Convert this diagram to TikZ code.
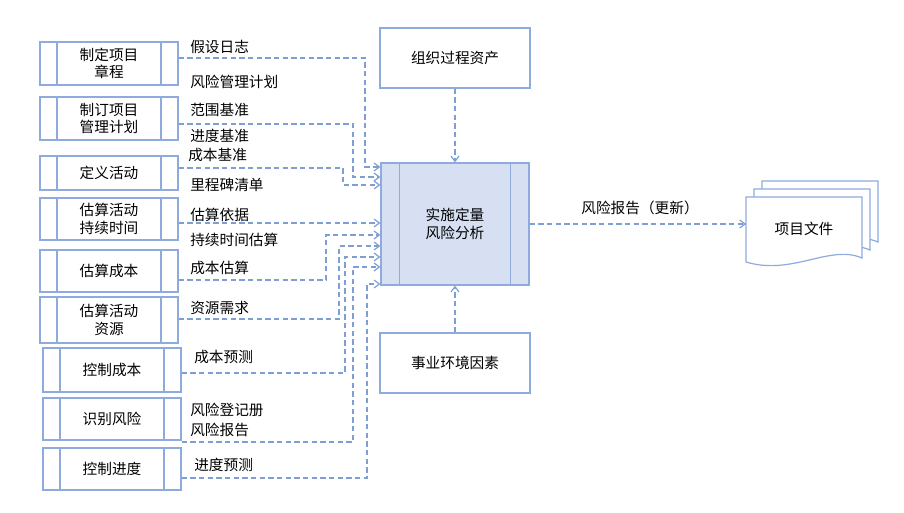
\documentclass[tikz,border=0pt]{standalone}
\usepackage{fontspec}
\setmainfont{Noto Sans CJK SC}
\usetikzlibrary{arrows.meta}
\definecolor{boxline}{RGB}{143,170,220}
\definecolor{flowline}{RGB}{127,158,214}
\definecolor{mainfill}{RGB}{214,224,242}
\tikzset{
    proc/.style={draw=boxline, line width=0.9pt, fill=white, minimum width=103.5pt, align=center, inner sep=0pt,
        path picture={\draw[boxline, line width=0.9pt] ([xshift=12.75pt]path picture bounding box.north west) -- ([xshift=12.75pt]path picture bounding box.south west);
                      \draw[boxline, line width=0.9pt] ([xshift=-12.75pt]path picture bounding box.north east) -- ([xshift=-12.75pt]path picture bounding box.south east);}},
    flow/.style={flowline, line width=0.9pt, dash pattern=on 4pt off 2.5pt, -{Straight Barb[length=4pt,width=6pt]}},
    lbl/.style={anchor=west, inner sep=0pt}
}
\begin{document}
\begin{tikzpicture}[x=0.75pt,y=-0.75pt, font=\fontsize{11}{13}\selectfont]
\useasboundingbox (0,0) rectangle (904,513);

% input boxes
\node[proc, minimum height=32.25pt] (charter) at (109,63.5) {制定项目\\章程};
\node[proc, minimum height=32.25pt] (pmplan) at (109,118.5) {制订项目\\管理计划};
\node[proc, minimum height=25.5pt] (defact) at (109,173) {定义活动};
\node[proc, minimum height=31.5pt] (estdur) at (109,219) {估算活动\\持续时间};
\node[proc, minimum height=31.5pt] (estcost) at (109,271) {估算成本};
\node[proc, minimum height=34.5pt] (estres) at (109,320) {估算活动\\资源};
\node[proc, minimum height=33pt] (ctrlcost) at (112,370) {控制成本};
\node[proc, minimum height=31.5pt] (idrisk) at (112,419) {识别风险};
\node[proc, minimum height=31.5pt] (ctrlsch) at (112,469) {控制进度};

% process and environment
\node[proc, fill=mainfill, minimum width=111pt, minimum height=91.5pt,
    path picture={\draw[boxline, line width=0.9pt] ([xshift=14pt]path picture bounding box.north west) -- ([xshift=14pt]path picture bounding box.south west);
                  \draw[boxline, line width=0.9pt] ([xshift=-14pt]path picture bounding box.north east) -- ([xshift=-14pt]path picture bounding box.south east);}]
    (main) at (455,224) {实施定量\\风险分析};
\node[draw=boxline, line width=0.9pt, minimum width=112.5pt, minimum height=45pt] (opa) at (455,58) {组织过程资产};
\node[draw=boxline, line width=0.9pt, minimum width=112.5pt, minimum height=45pt] (eef) at (455,363) {事业环境因素};

% project documents
\foreach \o in {16,8,0}
    \draw[boxline, line width=0.9pt, fill=white] (746+\o,197-\o) -- (862+\o,197-\o) -- (862+\o,258-\o)
        .. controls (830+\o,244-\o) and (792+\o,276-\o) .. (746+\o,262-\o) -- cycle;
\node (docs) at (804,229) {项目文件};
\coordinate (docsin) at (746,224);

% labels
\node[lbl] at (190,47) {假设日志};
\node[lbl] at (190,82) {风险管理计划};
\node[lbl] at (190,110) {范围基准};
\node[lbl] at (190,136) {进度基准};
\node[lbl] at (188,155) {成本基准};
\node[lbl] at (190,185) {里程碑清单};
\node[lbl] at (190,215) {估算依据};
\node[lbl] at (190,240) {持续时间估算};
\node[lbl] at (190,268) {成本估算};
\node[lbl] at (190,308) {资源需求};
\node[lbl] at (194,357) {成本预测};
\node[lbl] at (190,410) {风险登记册};
\node[lbl] at (190,430) {风险报告};
\node[lbl] at (194,465) {进度预测};
\node (outlbl) at (640,208) {风险报告（更新）};

% connectors
\draw[flow] (charter.east |- 0,58) -| (365,167) -- (main.west |- 0,167);
\draw[flow] (pmplan.east |- 0,124) -| (353,177) -- (main.west |- 0,177);
\draw[flow] (defact.east |- 0,168) -| (343,185) -- (main.west |- 0,185);
\draw[flow] (estdur.east |- 0,223) -- (main.west |- 0,223);
\draw[flow] (estcost.east |- 0,280) -| (326,235) -- (main.west |- 0,235);
\draw[flow] (estres.east |- 0,319) -| (339,246) -- (main.west |- 0,246);
\draw[flow] (ctrlcost.east |- 0,373) -| (345,257) -- (main.west |- 0,257);
\draw[flow] (idrisk.east |- 0,442) -| (353,267) -- (main.west |- 0,267);
\draw[flow] (ctrlsch.east |- 0,478) -| (367,284) -- (main.west |- 0,284);
\draw[flow] (opa) -- (main);
\draw[flow] (eef) -- (main);
\draw[flow] (main) -- (docsin);

\end{tikzpicture}
\end{document}
